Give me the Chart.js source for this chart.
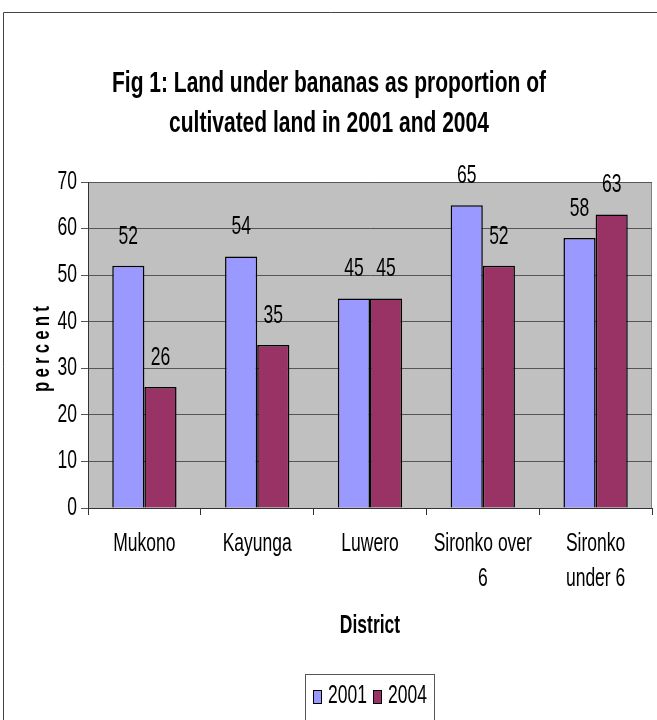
<!DOCTYPE html>
<html>
<head>
<meta charset="utf-8">
<script src="https://cdn.jsdelivr.net/npm/chart.js@4.4.1/dist/chart.umd.min.js"></script>
<style>
html,body{margin:0;padding:0;background:#fff;}
#wrap{position:relative;width:657px;height:720px;}
canvas{display:block;}
</style>
</head>
<body>
<div id="wrap"><canvas id="c" width="657" height="720"></canvas></div>
<script>
const categories = [["Mukono"], ["Kayunga"], ["Luwero"], ["Sironko over", "6"], ["Sironko", "under 6"]];
const seriesNames = ["2001", "2004"];
const values2001 = [52, 54, 45, 65, 58];
const values2004 = [26, 35, 45, 52, 63];
const yTicks = [0, 10, 20, 30, 40, 50, 60, 70];
const titleLines = ["Fig 1: Land under bananas as proportion of", "cultivated land in 2001 and 2004"];
const xTitle = "District";
const yTitle = "percent";
const seriesColors = ["#9999FF", "#993366"];

const FONT = "'Liberation Sans', Arial, sans-serif";
const SX = 0.70; // horizontal condensing to mimic a narrow face

function narrowText(ctx, text, x, y, size, bold, align, rot, spacing) {
  ctx.save();
  ctx.translate(x, y);
  if (rot) ctx.rotate(rot);
  ctx.scale(SX, 1);
  ctx.font = (bold ? "bold " : "") + size + "px " + FONT;
  ctx.fillStyle = '#000';
  ctx.textAlign = align || 'center';
  ctx.textBaseline = 'middle';
  if (spacing) ctx.letterSpacing = spacing + 'px';
  ctx.fillText(text, 0, 0);
  ctx.restore();
}

const bgPlugin = {
  id: 'bg',
  beforeDraw(chart) {
    const {ctx, chartArea: a} = chart;
    ctx.save();
    ctx.fillStyle = '#fff';
    ctx.fillRect(0, 0, chart.width, chart.height);
    ctx.strokeStyle = '#444';
    ctx.lineWidth = 1;
    ctx.beginPath();
    ctx.moveTo(3.5, 720);
    ctx.lineTo(3.5, 12.5);
    ctx.lineTo(657, 12.5);
    ctx.stroke();
    ctx.fillStyle = '#C0C0C0';
    ctx.fillRect(a.left, a.top, a.right - a.left, a.bottom - a.top);
    ctx.strokeStyle = '#808080';
    ctx.strokeRect(a.left + 0.5, a.top + 0.5, a.right - a.left - 1, a.bottom - a.top);
    ctx.restore();
  }
};

const textPlugin = {
  id: 'texts',
  afterDraw(chart) {
    const {ctx, chartArea: a} = chart;
    const xs = chart.scales.x, ys = chart.scales.y;
    const cx = (a.left + a.right) / 2;
    // title (centred on the frame)
    titleLines.forEach((t, i) => narrowText(ctx, t, 329, 84 + i * 40, 30, true, 'center'));
    // y tick labels
    yTicks.forEach(v => narrowText(ctx, String(v), 77, ys.getPixelForValue(v), 25, false, 'right'));
    // x tick labels
    categories.forEach((lines, i) => {
      const x = xs.getPixelForValue(i);
      lines.forEach((l, k) => narrowText(ctx, l, x, 544 + k * 35, 25, false, 'center'));
    });
    // axis titles
    narrowText(ctx, xTitle, cx, 626, 25, true, 'center');
    narrowText(ctx, yTitle, 42, 347, 24, true, 'center', -Math.PI / 2, 6);
    // data labels
    chart.data.datasets.forEach((ds, i) => {
      chart.getDatasetMeta(i).data.forEach((bar, j) => {
        narrowText(ctx, String(ds.data[j]), bar.x, bar.y - 29, 25, false, 'center');
      });
    });
    // legend
    ctx.save();
    ctx.strokeStyle = '#555';
    ctx.lineWidth = 1;
    ctx.strokeRect(305.5, 674.5, 129, 46);
    ctx.restore();
    const items = [{sq: 313, tx: 328}, {sq: 373, tx: 388}];
    chart.data.datasets.forEach((ds, i) => {
      ctx.save();
      ctx.fillStyle = ds.backgroundColor;
      ctx.fillRect(items[i].sq, 690, 8, 13);
      ctx.strokeStyle = '#000';
      ctx.lineWidth = 1;
      ctx.strokeRect(items[i].sq + 0.5, 690.5, 8, 13);
      ctx.restore();
      narrowText(ctx, ds.label, items[i].tx, 696, 25, false, 'left');
    });
  }
};

new Chart(document.getElementById('c'), {
  type: 'bar',
  data: {
    labels: categories,
    datasets: [
      {label: seriesNames[0], data: values2001, backgroundColor: seriesColors[0], borderColor: '#000', borderWidth: 1.5, borderSkipped: 'bottom'},
      {label: seriesNames[1], data: values2004, backgroundColor: seriesColors[1], borderColor: '#000', borderWidth: 1.5, borderSkipped: 'bottom'}
    ]
  },
  options: {
    responsive: false,
    animation: false,
    devicePixelRatio: 1,
    layout: {padding: {left: 0, right: 5, top: 182, bottom: 0}},
    datasets: {bar: {categoryPercentage: 0.57, barPercentage: 1.0}},
    plugins: {
      title: {display: false},
      legend: {display: false},
      tooltip: {enabled: false}
    },
    scales: {
      x: {
        grid: {display: true, drawOnChartArea: false, drawTicks: true, tickLength: 7, color: '#333', offset: true},
        border: {display: true, color: '#333', width: 1},
        ticks: {display: false},
        afterFit(scale) { scale.height = 212; }
      },
      y: {
        min: 0, max: 70,
        afterBuildTicks(scale) { scale.ticks = yTicks.map(v => ({value: v})); },
        grid: {display: true, drawOnChartArea: true, drawTicks: true, tickLength: 7, color: '#555'},
        border: {display: true, color: '#333', width: 1},
        ticks: {display: false},
        afterFit(scale) { scale.width = 88; }
      }
    }
  },
  plugins: [bgPlugin, textPlugin]
});
</script>
</body>
</html>
